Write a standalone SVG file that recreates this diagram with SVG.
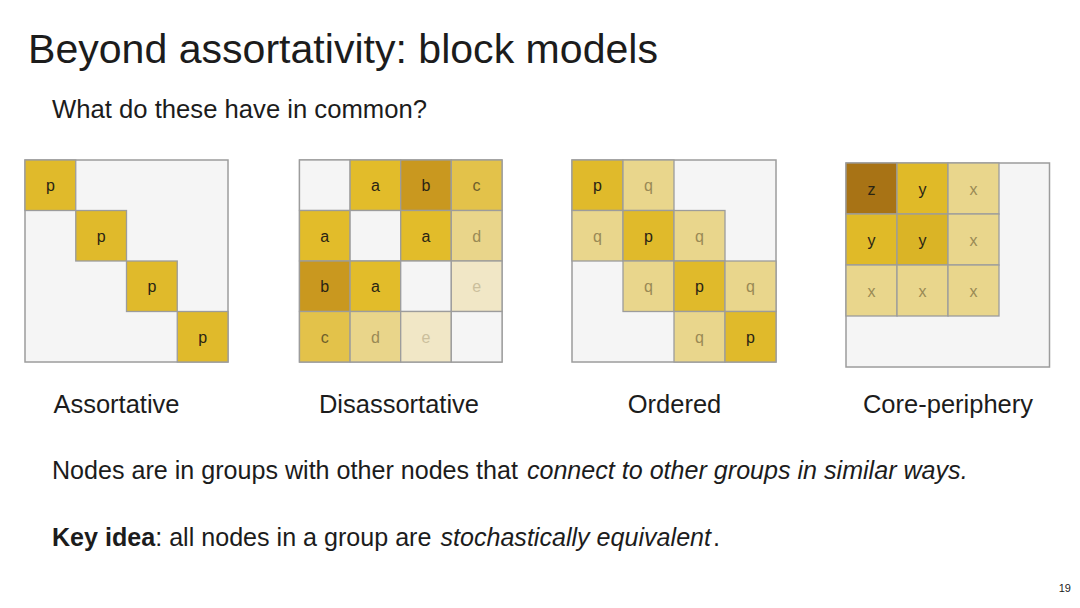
<svg xmlns="http://www.w3.org/2000/svg" width="1080" height="608" viewBox="0 0 1080 608">
<style>
text{font-family:"Liberation Sans",Arial,Helvetica,sans-serif;fill:#1c1c1c}
.bg{fill:#f5f5f5;stroke:#9c9c9c;stroke-width:1.5}
.c{stroke:#9c9c9c;stroke-width:1.3}
.p{fill:#e0ba2b}
.a{fill:#e2bc2a}
.b{fill:#c9981f}
.cc{fill:#e3c24a}
.d{fill:#e9d58a}
.e{fill:#f1e7c6}
.q{fill:#e9d68c}
.z{fill:#a87315}
.y{fill:#e0ba28}
.w{fill:#f5f5f5}
.t{font-size:16px;text-anchor:middle}
.dk{fill:#2a2414}
.md{fill:#9a8a55}
.lt{fill:#cbbf9c}
.cl{fill:#6f5f2a}
.lbl{font-size:25.5px;text-anchor:middle}
.body{font-size:25.5px}
.line{font-size:25.1px}
</style>
<rect width="1080" height="608" fill="#ffffff"/>
<text x="28" y="63" font-size="40" textLength="630" lengthAdjust="spacingAndGlyphs">Beyond assortativity: block models</text>
<text x="52" y="118" class="body" textLength="375" lengthAdjust="spacingAndGlyphs">What do these have in common?</text>

<g id="assortative">
<rect class="bg" x="25" y="160" width="203" height="202"/>
<rect class="c p" x="25" y="160" width="50.75" height="50.5"/>
<rect class="c p" x="75.75" y="210.5" width="50.75" height="50.5"/>
<rect class="c p" x="126.5" y="261" width="50.75" height="50.5"/>
<rect class="c p" x="177.25" y="311.5" width="50.75" height="50.5"/>
<text class="t dk" x="50.4" y="191">p</text>
<text class="t dk" x="101.1" y="241.5">p</text>
<text class="t dk" x="151.9" y="292">p</text>
<text class="t dk" x="202.6" y="342.5">p</text>
</g>

<g id="disassortative">
<rect class="bg" x="299.5" y="160" width="202.5" height="202"/>
<rect class="c w" x="299.5" y="160" width="50.6" height="50.5"/>
<rect class="c a" x="350.1" y="160" width="50.6" height="50.5"/>
<rect class="c b" x="400.7" y="160" width="50.6" height="50.5"/>
<rect class="c cc" x="451.3" y="160" width="50.7" height="50.5"/>
<rect class="c a" x="299.5" y="210.5" width="50.6" height="50.5"/>
<rect class="c w" x="350.1" y="210.5" width="50.6" height="50.5"/>
<rect class="c a" x="400.7" y="210.5" width="50.6" height="50.5"/>
<rect class="c d" x="451.3" y="210.5" width="50.7" height="50.5"/>
<rect class="c b" x="299.5" y="261" width="50.6" height="50.5"/>
<rect class="c a" x="350.1" y="261" width="50.6" height="50.5"/>
<rect class="c w" x="400.7" y="261" width="50.6" height="50.5"/>
<rect class="c e" x="451.3" y="261" width="50.7" height="50.5"/>
<rect class="c cc" x="299.5" y="311.5" width="50.6" height="50.5"/>
<rect class="c d" x="350.1" y="311.5" width="50.6" height="50.5"/>
<rect class="c e" x="400.7" y="311.5" width="50.6" height="50.5"/>
<rect class="c w" x="451.3" y="311.5" width="50.7" height="50.5"/>
<text class="t dk" x="375.4" y="191">a</text>
<text class="t dk" x="426" y="191">b</text>
<text class="t cl" x="476.6" y="191">c</text>
<text class="t dk" x="324.8" y="241.5">a</text>
<text class="t dk" x="426" y="241.5">a</text>
<text class="t md" x="476.6" y="241.5">d</text>
<text class="t dk" x="324.8" y="292">b</text>
<text class="t dk" x="375.4" y="292">a</text>
<text class="t lt" x="476.6" y="292">e</text>
<text class="t cl" x="324.8" y="342.5">c</text>
<text class="t md" x="375.4" y="342.5">d</text>
<text class="t lt" x="426" y="342.5">e</text>
</g>

<g id="ordered">
<rect class="bg" x="572" y="160" width="204" height="202"/>
<rect class="c p" x="572" y="160" width="51" height="50.5"/>
<rect class="c q" x="623" y="160" width="51" height="50.5"/>
<rect class="c q" x="572" y="210.5" width="51" height="50.5"/>
<rect class="c p" x="623" y="210.5" width="51" height="50.5"/>
<rect class="c q" x="674" y="210.5" width="51" height="50.5"/>
<rect class="c q" x="623" y="261" width="51" height="50.5"/>
<rect class="c p" x="674" y="261" width="51" height="50.5"/>
<rect class="c q" x="725" y="261" width="51" height="50.5"/>
<rect class="c q" x="674" y="311.5" width="51" height="50.5"/>
<rect class="c p" x="725" y="311.5" width="51" height="50.5"/>
<text class="t dk" x="597.5" y="191">p</text>
<text class="t md" x="648.5" y="191">q</text>
<text class="t md" x="597.5" y="241.5">q</text>
<text class="t dk" x="648.5" y="241.5">p</text>
<text class="t md" x="699.5" y="241.5">q</text>
<text class="t md" x="648.5" y="292">q</text>
<text class="t dk" x="699.5" y="292">p</text>
<text class="t md" x="750.5" y="292">q</text>
<text class="t md" x="699.5" y="342.5">q</text>
<text class="t dk" x="750.5" y="342.5">p</text>
</g>

<g id="core-periphery">
<rect class="bg" x="846" y="163" width="203.5" height="204"/>
<rect class="c z" x="846" y="163" width="51" height="51"/>
<rect class="c y" x="897" y="163" width="51" height="51"/>
<rect class="c q" x="948" y="163" width="51" height="51"/>
<rect class="c y" x="846" y="214" width="51" height="51"/>
<rect class="c" fill="#dab426" x="897" y="214" width="51" height="51"/>
<rect class="c q" x="948" y="214" width="51" height="51"/>
<rect class="c q" x="846" y="265" width="51" height="51"/>
<rect class="c q" x="897" y="265" width="51" height="51"/>
<rect class="c q" x="948" y="265" width="51" height="51"/>
<text class="t dk" x="871.5" y="194.5">z</text>
<text class="t dk" x="922.5" y="194.5">y</text>
<text class="t md" x="973.5" y="194.5">x</text>
<text class="t dk" x="871.5" y="245.5">y</text>
<text class="t dk" x="922.5" y="245.5">y</text>
<text class="t md" x="973.5" y="245.5">x</text>
<text class="t md" x="871.5" y="296.5">x</text>
<text class="t md" x="922.5" y="296.5">x</text>
<text class="t md" x="973.5" y="296.5">x</text>
</g>

<text class="lbl" x="116.5" y="413">Assortative</text>
<text class="lbl" x="399" y="413">Disassortative</text>
<text class="lbl" x="674.5" y="413">Ordered</text>
<text class="lbl" x="948" y="413">Core-periphery</text>

<text class="line" x="52" y="479">Nodes are in groups with other nodes that <tspan font-style="italic" dx="2">connect to other groups in similar ways.</tspan></text>

<text class="line" x="52" y="546"><tspan font-weight="bold">Key idea</tspan>: all nodes in a group are <tspan font-style="italic" dx="2">stochastically equivalent</tspan><tspan dx="2">.</tspan></text>

<text x="1071" y="592" font-size="11" text-anchor="end">19</text>
</svg>
